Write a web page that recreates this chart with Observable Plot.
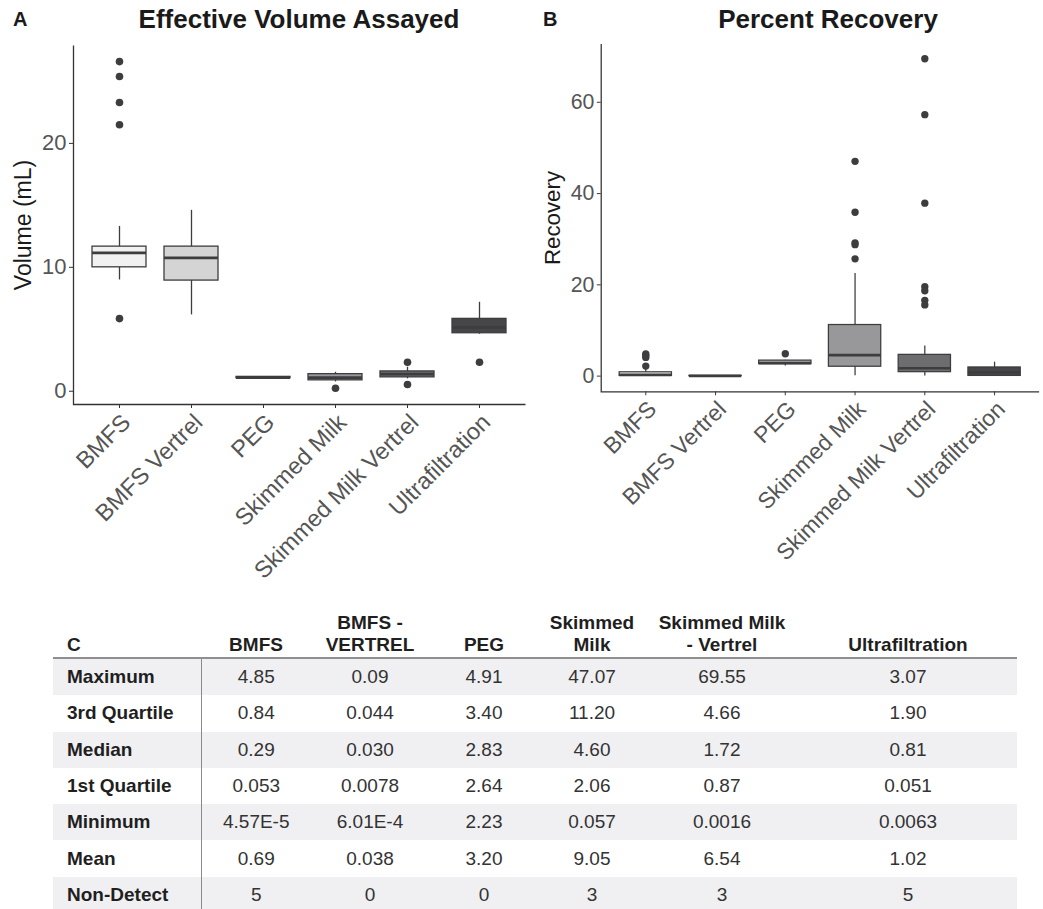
<!DOCTYPE html>
<html><head><meta charset="utf-8">
<script src="https://cdn.jsdelivr.net/npm/d3@7"></script>
<script src="https://cdn.jsdelivr.net/npm/@observablehq/plot@0.6"></script>
<style>
html,body{margin:0;padding:0;background:#fff;overflow:hidden;width:1043px;height:909px;}
body{position:relative;font-family:"Liberation Sans",Arial,Helvetica,sans-serif;}
.abs{position:absolute;}
.letter{font-weight:bold;font-size:20px;line-height:20px;color:#1a1a1a;}
.title{font-weight:bold;font-size:26px;line-height:26px;color:#1a1a1a;white-space:nowrap;transform:translateX(-50%);}
#panelA{left:0;top:0;}
#panelB{left:529.5px;top:0;}
table.stats{position:absolute;left:53px;top:600px;width:964px;border-collapse:collapse;table-layout:fixed;font-size:19px;color:#333;}
table.stats th{font-weight:bold;color:#1f1f1f;text-align:center;vertical-align:bottom;line-height:22px;padding:0 0 1px 0;height:56px;border-bottom:2px solid #8f8f8f;}
table.stats th.lab{text-align:left;padding-left:14px;}
table.stats td{text-align:center;vertical-align:middle;height:36.3px;padding:0;}
table.stats td.lab{text-align:left;padding-left:14px;font-weight:bold;color:#1f1f1f;border-right:1.5px solid #8a8a8a;}
table.stats tr.odd td{background:#f0f0f2;}
</style>
</head><body>
<div class="abs letter" style="left:13px;top:9px;">A</div>
<div class="abs title" style="left:299px;top:6px;">Effective Volume Assayed</div>
<div class="abs letter" style="left:543px;top:9px;">B</div>
<div class="abs title" style="left:828px;top:6px;">Percent Recovery</div>
<div id="panelA" class="abs"></div>
<div id="panelB" class="abs"></div>
<script>
// ---------- data ----------
const categories = ["BMFS","BMFS Vertrel","PEG","Skimmed Milk","Skimmed Milk Vertrel","Ultrafiltration"];
const fillGreys = ["#f1f1f1","#d4d4d5","#b4b4b5","#98989a","#6d6d6f","#464648"];

// Panel A: Effective Volume Assayed (mL)
const volLower  = [8.98, 6.16, 1.03, 0.75, 1.00, 4.60];
const volQ1     = [10.0, 8.93, 1.05, 0.88, 1.12, 4.68];
const volMedian = [11.16, 10.76, 1.10, 1.10, 1.38, 5.16];
const volQ3     = [11.67, 11.67, 1.16, 1.38, 1.60, 5.84];
const volUpper  = [13.3, 14.6, 1.18, 1.53, 1.94, 7.18];
const volOutliers = [[26.6, 25.4, 23.3, 21.5, 5.86], [], [], [0.24], [2.34, 0.54], [2.34]];
const volTicks = [0, 10, 20];
const volDomain = [-1.07, 27.9];

// Panel B: Percent Recovery
const recLower  = [0.0000457, 0.0006, 2.23, 0.057, 0.0016, 0.0063];
const recQ1     = [0.053, 0.0078, 2.64, 2.06, 0.87, 0.051];
const recMedian = [0.29, 0.030, 2.83, 4.60, 1.72, 0.81];
const recQ3     = [0.84, 0.044, 3.40, 11.20, 4.66, 1.90];
const recUpper  = [1.9, 0.09, 3.5, 22.5, 6.6, 3.07];
const recOutliers = [[4.85, 4.5, 4.1, 2.2], [], [4.91], [47.07, 35.9, 29.2, 28.8, 25.7], [69.55, 57.3, 37.9, 19.6, 18.7, 16.6, 15.6], []];
const recTicks = [0, 20, 40, 60];
const recDomain = [-3.46, 72.76];

// Table C
const tableCorner = "C";
const tableHeaders = ["BMFS", "BMFS -\nVERTREL", "PEG", "Skimmed\nMilk", "Skimmed Milk\n- Vertrel", "Ultrafiltration"];
const rowLabels = ["Maximum", "3rd Quartile", "Median", "1st Quartile", "Minimum", "Mean", "Non-Detect"];
const rowMaximum   = ["4.85", "0.09", "4.91", "47.07", "69.55", "3.07"];
const rowQuartile3 = ["0.84", "0.044", "3.40", "11.20", "4.66", "1.90"];
const rowMedian    = ["0.29", "0.030", "2.83", "4.60", "1.72", "0.81"];
const rowQuartile1 = ["0.053", "0.0078", "2.64", "2.06", "0.87", "0.051"];
const rowMinimum   = ["4.57E-5", "6.01E-4", "2.23", "0.057", "0.0016", "0.0063"];
const rowMean      = ["0.69", "0.038", "3.20", "9.05", "6.54", "1.02"];
const rowNonDetect = ["5", "0", "0", "3", "3", "5"];
const tableColWidths = [148, 110, 118, 110, 106, 154, 218];

// ---------- panels ----------
const INK = "#3d3d3f";
function boxPanel(lower, q1, median, q3, upper, outliers, domain, ticks, yLabel) {
  const stats = categories.map((c, i) => ({cat: c, lo: lower[i], q1: q1[i], med: median[i], q3: q3[i], hi: upper[i]}));
  const outs = categories.flatMap((c, i) => outliers[i].map(v => ({cat: c, v})));
  const width = 530, height = 590, mL = 73, mR = 5, mT = 45, mB = 186;
  const W = width - mL - mR, H = height - mT - mB;
  return Plot.plot({
    width, height, marginLeft: mL, marginRight: mR, marginTop: mT, marginBottom: mB,
    style: {fontFamily: '"Liberation Sans", Arial, sans-serif', fontSize: "22px", background: "transparent", overflow: "visible"},
    x: {type: "band", domain: categories, paddingInner: 0.25, paddingOuter: 0.225, label: null},
    y: {domain, label: null},
    color: {domain: categories, range: fillGreys},
    marks: [
      Plot.ruleX(stats, {x: "cat", y1: "lo", y2: "hi", stroke: INK, strokeWidth: 1.3}),
      Plot.barY(stats, {x: "cat", y1: "q1", y2: "q3", fill: "cat", stroke: INK, strokeWidth: 1.3, inset: 0}),
      Plot.tickY(stats, {x: "cat", y: "med", stroke: INK, strokeWidth: 2.8}),
      Plot.dot(outs, {x: "cat", y: "v", r: 3.8, fill: INK, stroke: "none"}),
      Plot.frame({stroke: "#333", strokeWidth: 1.3, strokeDasharray: `0,${W + H},${W + H}`}),
      Plot.axisY({ticks, tickSize: 4, tickPadding: 3, fontSize: 22, stroke: "#333", fill: "#555", label: null}),
      // tick marks only
      Plot.axisX({tickSize: 4, tickFormat: () => "", stroke: "#333", label: null}),
      // rotated tick labels only
      Plot.axisX({tickRotate: -45, tickSize: 0, tickPadding: 7, fontSize: 23.5, fill: "#555", label: null, dx: 7, dy: 7}),
      Plot.text([yLabel], {frameAnchor: "left", textAnchor: "middle", rotate: -90, dx: -50, fontSize: 23, fill: "#1a1a1a"})
    ]
  });
}

document.getElementById("panelA").append(
  boxPanel(volLower, volQ1, volMedian, volQ3, volUpper, volOutliers, volDomain, volTicks, "Volume (mL)"));
document.getElementById("panelB").append(
  boxPanel(recLower, recQ1, recMedian, recQ3, recUpper, recOutliers, recDomain, recTicks, "Recovery"));

// ---------- table ----------
const table = document.createElement("table");
table.className = "stats";
const colgroup = document.createElement("colgroup");
tableColWidths.forEach(w => { const col = document.createElement("col"); col.style.width = w + "px"; colgroup.append(col); });
table.append(colgroup);
const thead = document.createElement("thead");
const hr = document.createElement("tr");
const corner = document.createElement("th"); corner.className = "lab"; corner.textContent = tableCorner; hr.append(corner);
tableHeaders.forEach(h => {
  const th = document.createElement("th");
  h.split("\n").forEach((line, k) => { if (k) th.append(document.createElement("br")); th.append(line); });
  hr.append(th);
});
thead.append(hr); table.append(thead);
const tbody = document.createElement("tbody");
const rows = [rowMaximum, rowQuartile3, rowMedian, rowQuartile1, rowMinimum, rowMean, rowNonDetect];
rows.forEach((vals, r) => {
  const tr = document.createElement("tr");
  if (r % 2 === 0) tr.className = "odd";
  const lab = document.createElement("td"); lab.className = "lab"; lab.textContent = rowLabels[r]; tr.append(lab);
  vals.forEach(v => { const td = document.createElement("td"); td.textContent = v; tr.append(td); });
  tbody.append(tr);
});
table.append(tbody);
document.body.append(table);
</script>
</body></html>
